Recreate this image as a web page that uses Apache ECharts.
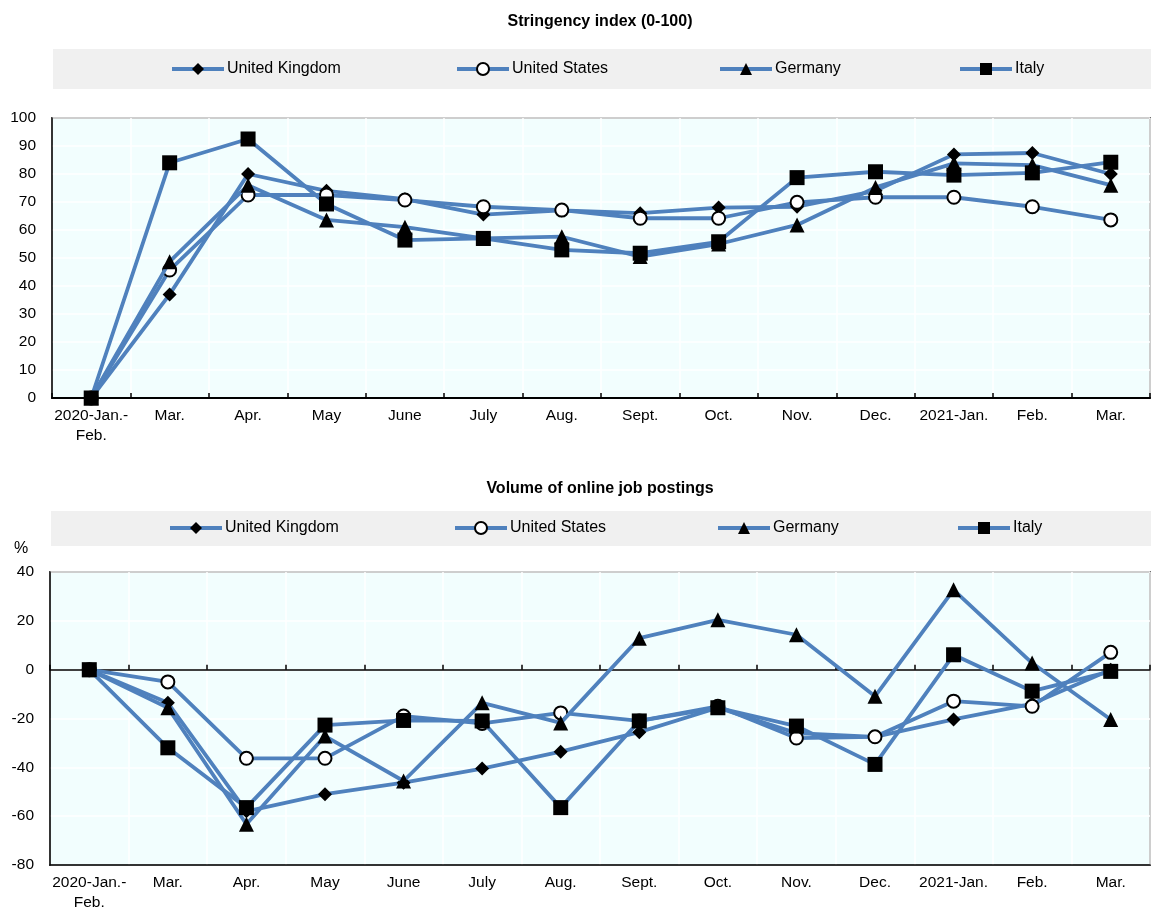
<!DOCTYPE html>
<html>
<head>
<meta charset="utf-8">
<script src="https://cdn.jsdelivr.net/npm/echarts@6/dist/echarts.min.js"></script>
<style>
html,body{margin:0;padding:0;background:#fff;}
#chart{width:1151px;height:913px;}
</style>
</head>
<body>
<div id="chart"></div>
<script>
const categories = ['2020-Jan.-\nFeb.', 'Mar.', 'Apr.', 'May', 'June', 'July', 'Aug.', 'Sept.', 'Oct.', 'Nov.', 'Dec.', '2021-Jan.', 'Feb.', 'Mar.'];
const seriesNames = ['United Kingdom', 'United States', 'Germany', 'Italy'];

// Stringency index (0-100)
const stringencyUK = [0, 37, 80, 74, 71, 65.5, 67, 66, 68, 68.3, 74, 87, 87.5, 80];
const stringencyUS = [0, 45.7, 72.5, 72.5, 70.7, 68.3, 67.1, 64.2, 64.2, 69.9, 71.7, 71.7, 68.3, 63.6];
const stringencyDE = [0, 48.7, 76, 63.6, 61, 57, 57.6, 50.5, 55, 61.8, 75.2, 83.8, 83.2, 76];
const stringencyIT = [0, 84, 92.5, 69.3, 56.4, 57, 52.9, 51.7, 55.8, 78.7, 80.8, 79.6, 80.4, 84.2];

// Volume of online job postings (%)
const postingsUK = [0, -13.6, -58, -51, -46.3, -40.5, -33.6, -25.6, -15.6, -26, -27.5, -20.4, -14, 0];
const postingsUS = [0, -5, -36.3, -36.3, -19, -22, -17.7, -21, -15, -28, -27.5, -12.9, -15, 7.1];
const postingsDE = [0, -15.6, -63.3, -27.2, -45.6, -13.6, -21.8, 12.9, 20.4, 14.3, -10.9, 32.7, 2.7, -20.4];
const postingsIT = [0, -32, -56.5, -22.7, -20.8, -21, -56.5, -21, -15.6, -23.1, -38.8, 6.1, -8.8, -0.7];

const topTicks = {min: 0, max: 100, interval: 10};
const bottomTicks = {min: -80, max: 40, interval: 20};

const FONT = "'Liberation Sans', Arial, sans-serif";
const LINE = '#4F81BD';
const PLOT_BG = '#f2fefe';

const symbols = [
  {symbol: 'diamond', symbolSize: 14, itemStyle: {color: '#000'}},
  {symbol: 'circle', symbolSize: 13, itemStyle: {color: '#fff', borderColor: '#000', borderWidth: 2}},
  {symbol: 'triangle', symbolSize: 15, itemStyle: {color: '#000'}},
  {symbol: 'rect', symbolSize: 15, itemStyle: {color: '#000'}}
];

const topData = [stringencyUK, stringencyUS, stringencyDE, stringencyIT];
const bottomData = [postingsUK, postingsUS, postingsDE, postingsIT];

const series = [];
seriesNames.forEach((name, i) => {
  series.push(Object.assign({
    name: name, type: 'line', xAxisIndex: 0, yAxisIndex: 0,
    data: topData[i], lineStyle: {color: LINE, width: 3.8},
    showAllSymbol: true, animation: false, z: 3 + i
  }, symbols[i]));
});
seriesNames.forEach((name, i) => {
  series.push(Object.assign({
    name: name, type: 'line', xAxisIndex: 1, yAxisIndex: 1,
    data: bottomData[i], lineStyle: {color: LINE, width: 3.8},
    showAllSymbol: true, animation: false, z: 3 + i
  }, symbols[i]));
});

const legendX = [170, 455, 718, 958];
const legends = [];
[69, 528].forEach((cy, k) => {
  seriesNames.forEach((name, i) => {
    legends.push({
      data: [name], left: legendX[i] - (k ? 2 : 0), top: cy - 8,
      itemWidth: 52, itemHeight: 15, itemGap: 0,
      lineStyle: {width: 4, color: LINE},
      textStyle: {fontFamily: FONT, fontSize: 16, color: '#000', padding: [0, 0, 0, -2]},
      selectedMode: false, padding: 0
    });
  });
});

const catAxisBase = {
  type: 'category', data: categories, boundaryGap: true,
  axisLabel: {fontFamily: FONT, fontSize: 15.5, color: '#000', margin: 8, lineHeight: 20, interval: 0},
  splitLine: {show: true, lineStyle: {color: '#ffffff', width: 1.5}}
};

const option = {
  backgroundColor: '#fff',
  animation: false,
  title: [
    {text: 'Stringency index (0-100)', left: 595, top: 9, textAlign: 'center',
     textStyle: {fontFamily: FONT, fontSize: 16, fontWeight: 'bold', color: '#000'}},
    {text: 'Volume of online job postings', left: 595, top: 476, textAlign: 'center',
     textStyle: {fontFamily: FONT, fontSize: 16, fontWeight: 'bold', color: '#000'}}
  ],
  legend: legends,
  graphic: [
    {type: 'rect', shape: {x: 53, y: 49, width: 1098, height: 40}, style: {fill: '#f0f0f0'}, z: -10},
    {type: 'rect', shape: {x: 51, y: 511, width: 1100, height: 35}, style: {fill: '#f0f0f0'}, z: -10},
    {type: 'text', x: 14, y: 541, style: {text: '%', font: '16px ' + FONT, fill: '#000'}}
  ],
  grid: [
    {left: 52, top: 118, width: 1098, height: 280, show: true, backgroundColor: PLOT_BG, borderColor: '#000', borderWidth: 1.5},
    {left: 50, top: 572, width: 1100, height: 294, show: true, backgroundColor: PLOT_BG, borderColor: '#000', borderWidth: 1.5}
  ],
  xAxis: [
    Object.assign({}, catAxisBase, {
      gridIndex: 0, position: 'bottom',
      axisLine: {show: true, onZero: false, lineStyle: {color: '#000', width: 2}},
      axisTick: {show: true, inside: true, length: 5, lineStyle: {color: '#000', width: 1.5}}
    }),
    Object.assign({}, catAxisBase, {
      gridIndex: 1, position: 'bottom',
      axisLine: {show: true, onZero: false, lineStyle: {color: '#000', width: 1.5}},
      axisTick: {show: false}
    }),
    {
      type: 'category', data: categories, boundaryGap: true, gridIndex: 1, position: 'bottom',
      axisLine: {show: true, onZero: true, onZeroAxisIndex: 1, lineStyle: {color: '#000', width: 1.5}},
      axisTick: {show: true, inside: true, length: 5, lineStyle: {color: '#000', width: 1.5}},
      axisLabel: {show: false}, splitLine: {show: false}
    }
  ],
  yAxis: [
    {
      type: 'value', gridIndex: 0, min: topTicks.min, max: topTicks.max, interval: topTicks.interval,
      axisLine: {show: true, lineStyle: {color: '#000', width: 1.5}}, axisTick: {show: false},
      axisLabel: {fontFamily: FONT, fontSize: 15.5, color: '#000', margin: 16},
      splitLine: {show: true, lineStyle: {color: '#ffffff', width: 1.5}}
    },
    {
      type: 'value', gridIndex: 1, min: bottomTicks.min, max: bottomTicks.max, interval: bottomTicks.interval,
      axisLine: {show: true, lineStyle: {color: '#000', width: 1.5}}, axisTick: {show: false},
      axisLabel: {fontFamily: FONT, fontSize: 15.5, color: '#000', margin: 16},
      splitLine: {show: true, lineStyle: {color: '#ffffff', width: 1.5}}
    }
  ],
  series: series
};

const chart = echarts.init(document.getElementById('chart'), null, {renderer: 'canvas'});
chart.setOption(option);
</script>
</body>
</html>
